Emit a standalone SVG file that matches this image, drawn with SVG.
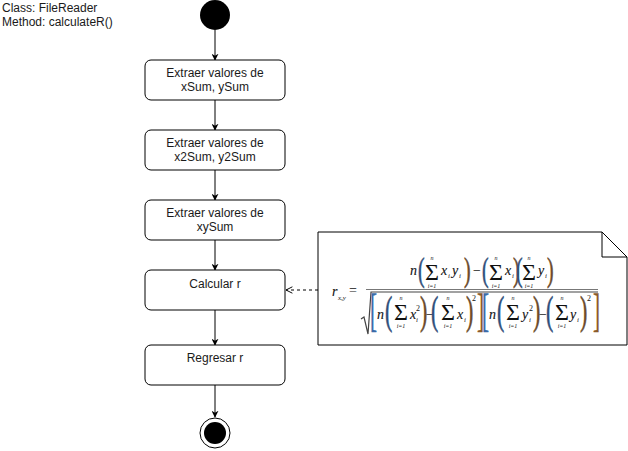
<svg xmlns="http://www.w3.org/2000/svg" width="628" height="451" viewBox="0 0 628 451">
  <defs>
    <marker id="arrowSolid" viewBox="0 0 10 10" refX="9" refY="5" markerWidth="7" markerHeight="7" orient="auto" markerUnits="userSpaceOnUse">
      <path d="M0,0 L10,5 L0,10 L3,5 Z" fill="#000"/>
    </marker>
    <marker id="arrowOpen" viewBox="0 0 10 10" refX="9" refY="5" markerWidth="8" markerHeight="8" orient="auto" markerUnits="userSpaceOnUse">
      <path d="M1,1 L9,5 L1,9" fill="none" stroke="#000" stroke-width="1.2"/>
    </marker>
  </defs>
  <style>
    .box { fill: #fff; stroke: #000; stroke-width: 1; }
    .lbl { font-family: "Liberation Sans", Arial, sans-serif; font-size: 12px; fill: #1a1a1a; text-anchor: middle; }
    .hdr { font-family: "Liberation Sans", Arial, sans-serif; font-size: 12px; fill: #1a1a1a; }
    .edge { fill: none; stroke: #000; stroke-width: 1; marker-end: url(#arrowSolid); }
    .dash { fill: none; stroke: #000; stroke-width: 1; stroke-dasharray: 3 3; marker-end: url(#arrowOpen); }
    .note { fill: #fff; stroke: #000; stroke-width: 1; }
    .m { font-family: "Liberation Serif", "Times New Roman", serif; fill: #111; }
    .it { font-style: italic; font-size: 14px; stroke: #111; stroke-width: 0.1; }
    .sub { font-style: italic; font-size: 7px; }
    .tiny { font-style: italic; font-size: 6px; text-anchor: middle; }
    .sig { font-size: 24px; }
    .sup { font-size: 8px; }
    .op { font-size: 14px; }
    .pL { font-size: 33px; fill: #2f4f7a; stroke: #2f4f7a; stroke-width: 0.6; }
    .pR { font-size: 33px; fill: #6b4a2a; stroke: #6b4a2a; stroke-width: 0.6; }
    .qL { font-size: 40px; fill: #2f4f7a; stroke: #2f4f7a; stroke-width: 0.6; }
    .qR { font-size: 40px; fill: #6b4a2a; stroke: #6b4a2a; stroke-width: 0.6; }
    .bL { font-size: 47px; fill: #3a6aa8; stroke: #3a6aa8; stroke-width: 0.5; }
    .bR { font-size: 47px; fill: #8a5a2a; stroke: #8a5a2a; stroke-width: 0.5; }
  </style>

  <!-- header -->
  <g id="header">
    <text class="hdr" x="2" y="12">Class: FileReader</text>
    <text class="hdr" x="2" y="26">Method: calculateR()</text>
  </g>

  <!-- connectors -->
  <g id="connectors">
    <path class="edge" d="M215,30 V60"/>
    <path class="edge" d="M215,100 V130"/>
    <path class="edge" d="M215,170 V200"/>
    <path class="edge" d="M215,240 V270"/>
    <path class="edge" d="M215,310 V345"/>
    <path class="edge" d="M215,385 V417"/>
    <path class="dash" d="M318,290 H286"/>
  </g>

  <!-- start -->
  <g id="start">
    <circle cx="215" cy="15" r="15" fill="#000"/>
  </g>

  <g id="extract-sum">
    <rect class="box" x="145" y="60" width="140" height="40" rx="6"/>
    <text class="lbl" x="215" y="77">Extraer valores de</text>
    <text class="lbl" x="215" y="91">xSum, ySum</text>
  </g>

  <g id="extract-sum2">
    <rect class="box" x="145" y="130" width="140" height="40" rx="6"/>
    <text class="lbl" x="215" y="147">Extraer valores de</text>
    <text class="lbl" x="215" y="161">x2Sum, y2Sum</text>
  </g>

  <g id="extract-xy">
    <rect class="box" x="145" y="200" width="140" height="40" rx="6"/>
    <text class="lbl" x="215" y="217">Extraer valores de</text>
    <text class="lbl" x="215" y="231">xySum</text>
  </g>

  <g id="calc-r">
    <rect class="box" x="145" y="270" width="140" height="40" rx="6"/>
    <text class="lbl" x="215" y="288">Calcular r</text>
  </g>

  <g id="return-r">
    <rect class="box" x="145" y="345" width="140" height="40" rx="6"/>
    <text class="lbl" x="215" y="362">Regresar r</text>
  </g>

  <!-- end -->
  <g id="end">
    <circle cx="215" cy="433" r="15" fill="#fff" stroke="#000" stroke-width="1"/>
    <circle cx="215" cy="433" r="11" fill="#000"/>
  </g>

  <!-- note with the correlation formula -->
  <g id="note">
    <path class="note" d="M318,232 H602 L627,257 V345 H318 Z"/>
    <path fill="none" stroke="#000" stroke-width="1" d="M602,232 V257 H627"/>

    <!-- r_{x,y} = -->
    <text class="m it" x="332" y="296">r</text>
    <text class="m sub" x="338" y="300">x,y</text>
    <text class="m op" x="349" y="295">=</text>

    <!-- fraction bar and radical -->
    <path fill="none" stroke="#777" stroke-width="1" d="M366,289.5 H598"/>
    <path fill="none" stroke="#444" stroke-width="1.2" d="M361,319 L364,317 L368,334 L371,292 H598"/>

    <!-- numerator -->
    <text class="m it" x="410" y="275">n</text>
    <text class="m pL" transform="translate(418,281) scale(0.6,1)">(</text>
    <text class="m tiny" x="432" y="260">n</text>
    <text class="m sig" x="425" y="280">Σ</text>
    <text class="m tiny" x="432" y="288">i=1</text>
    <text class="m it" x="441" y="275">x</text>
    <text class="m sub" x="448" y="278">i</text>
    <text class="m it" x="452" y="275">y</text>
    <text class="m sub" x="459" y="278">i</text>
    <text class="m pR" transform="translate(464,281) scale(0.6,1)">)</text>
    <text class="m op" x="473" y="275">−</text>
    <text class="m pL" transform="translate(482,281) scale(0.6,1)">(</text>
    <text class="m tiny" x="496" y="260">n</text>
    <text class="m sig" x="489" y="280">Σ</text>
    <text class="m tiny" x="496" y="288">i=1</text>
    <text class="m it" x="505" y="275">x</text>
    <text class="m sub" x="512" y="278">i</text>
    <text class="m pR" transform="translate(513,281) scale(0.6,1)">)</text>
    <text class="m pL" transform="translate(516,281) scale(0.6,1)">(</text>
    <text class="m tiny" x="529" y="260">n</text>
    <text class="m sig" x="522" y="280">Σ</text>
    <text class="m tiny" x="529" y="288">i=1</text>
    <text class="m it" x="538" y="275">y</text>
    <text class="m sub" x="545" y="278">i</text>
    <text class="m pR" transform="translate(547,281) scale(0.6,1)">)</text>

    <!-- denominator, first bracket -->
    <text class="m bL" transform="translate(370,326) scale(0.45,1)">[</text>
    <text class="m it" x="377" y="319">n</text>
    <text class="m qL" transform="translate(385,324) scale(0.55,1)">(</text>
    <text class="m tiny" x="401" y="300">n</text>
    <text class="m sig" x="394" y="320">Σ</text>
    <text class="m tiny" x="401" y="328">i=1</text>
    <text class="m it" x="410" y="319">x</text>
    <text class="m sub" x="416" y="322">i</text>
    <text class="m sup" x="416" y="311">2</text>
    <text class="m qR" transform="translate(420,324) scale(0.55,1)">)</text>
    <text class="m op" x="426" y="319">−</text>
    <text class="m qL" transform="translate(431,324) scale(0.55,1)">(</text>
    <text class="m tiny" x="448" y="300">n</text>
    <text class="m sig" x="441" y="320">Σ</text>
    <text class="m tiny" x="448" y="328">i=1</text>
    <text class="m it" x="457" y="319">x</text>
    <text class="m sub" x="464" y="322">i</text>
    <text class="m qR" transform="translate(466,324) scale(0.55,1)">)</text>
    <text class="m sup" x="472" y="301">2</text>
    <text class="m bR" transform="translate(477,326) scale(0.45,1)">]</text>

    <!-- denominator, second bracket -->
    <text class="m bL" transform="translate(482,326) scale(0.45,1)">[</text>
    <text class="m it" x="489" y="319">n</text>
    <text class="m qL" transform="translate(497,324) scale(0.55,1)">(</text>
    <text class="m tiny" x="513" y="300">n</text>
    <text class="m sig" x="506" y="320">Σ</text>
    <text class="m tiny" x="513" y="328">i=1</text>
    <text class="m it" x="522" y="319">y</text>
    <text class="m sub" x="529" y="322">i</text>
    <text class="m sup" x="529" y="311">2</text>
    <text class="m qR" transform="translate(533,324) scale(0.55,1)">)</text>
    <text class="m op" x="539" y="319">−</text>
    <text class="m qL" transform="translate(546,324) scale(0.55,1)">(</text>
    <text class="m tiny" x="562" y="300">n</text>
    <text class="m sig" x="555" y="320">Σ</text>
    <text class="m tiny" x="562" y="328">i=1</text>
    <text class="m it" x="570" y="319">y</text>
    <text class="m sub" x="577" y="322">i</text>
    <text class="m qR" transform="translate(580,324) scale(0.55,1)">)</text>
    <text class="m sup" x="587" y="301">2</text>
    <text class="m bR" transform="translate(593,326) scale(0.45,1)">]</text>
  </g>
</svg>
